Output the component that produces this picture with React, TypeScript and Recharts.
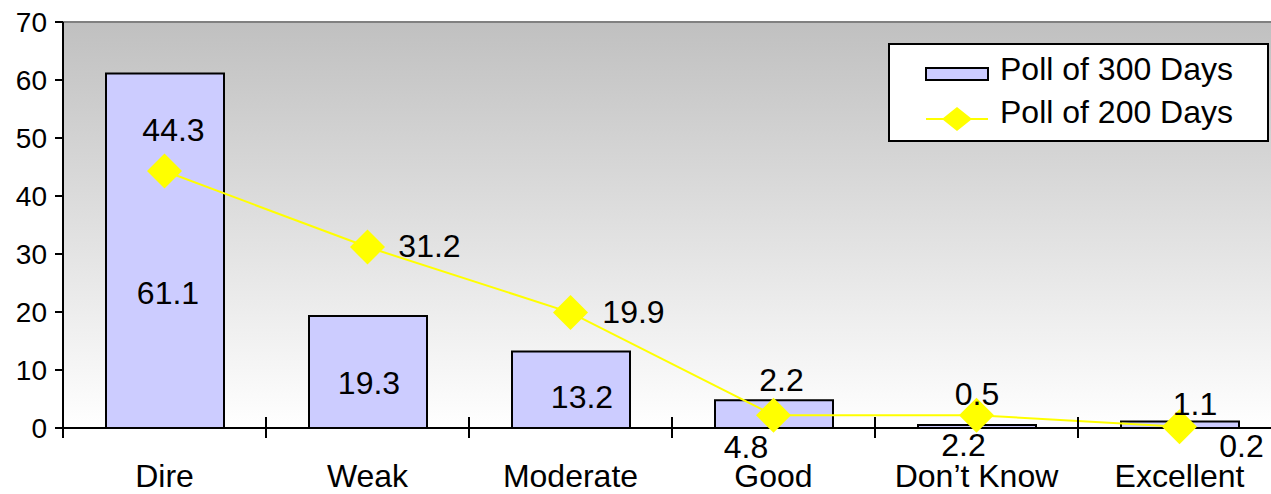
import {
  ComposedChart,
  Bar,
  Line,
  XAxis,
  YAxis,
  CartesianGrid,
  Legend,
  LabelList,
  ReferenceLine,
} from 'recharts';

const CATEGORIES = ['Dire', 'Weak', 'Moderate', 'Good', 'Don’t Know', 'Excellent'];
const POLL_300_DAYS = [61.1, 19.3, 13.2, 4.8, 0.5, 1.1];
const POLL_200_DAYS = [44.3, 31.2, 19.9, 2.2, 2.2, 0.2];
const Y_TICKS = [0, 10, 20, 30, 40, 50, 60, 70];

// where each data label sits, relative to the bar top / line point (text centre)
const BAR_LABEL_OFFSET = [[3, 219], [1, 67], [11, 46], [-28, 47], [0, -31], [15, -18]];
const LINE_LABEL_OFFSET = [[9, -41], [62, -1], [63, -1], [8, -35], [-13, 30], [62, 19]];

const FONT = '"Liberation Sans", Arial, sans-serif';
const CHART_W = 1290;
const CHART_H = 494;
const MARGIN = { top: 22, right: 9, bottom: 6, left: 0 };
const Y_AXIS_W = 63;
const BAND = (CHART_W - MARGIN.left - MARGIN.right - Y_AXIS_W) / CATEGORIES.length;

const data = CATEGORIES.map((name, i) => ({
  name,
  poll300: POLL_300_DAYS[i],
  poll200: POLL_200_DAYS[i],
}));

const Diamond = ({ cx, cy, hw = 17.5, hh = 17.5 }: any) => {
  if (cx == null || cy == null) return null;
  return (
    <polygon
      points={`${cx},${cy - hh} ${cx + hw},${cy} ${cx},${cy + hh} ${cx - hw},${cy}`}
      fill="#ffff00"
      stroke="none"
    />
  );
};

const CategoryTick = (props: any) => {
  const { x, y, payload, index } = props;
  const last = index === CATEGORIES.length - 1;
  return (
    <g>
      <line x1={x - BAND / 2} x2={x - BAND / 2} y1={y - 11} y2={y + 10} stroke="#000" strokeWidth={2} />
      {last && (
        <line x1={x + BAND / 2} x2={x + BAND / 2} y1={y - 11} y2={y + 10} stroke="#000" strokeWidth={2} />
      )}
      <text x={x} y={y + 59} textAnchor="middle" fontSize={32} fontFamily={FONT} fill="#000">
        {payload.value}
      </text>
    </g>
  );
};

const barLabel = (props: any) => {
  const { x, y, width, value, index } = props;
  const [dx, dy] = BAR_LABEL_OFFSET[index] ?? [0, 0];
  return (
    <text
      x={x + width / 2 + dx}
      y={y + dy + 11}
      textAnchor="middle"
      fontSize={32}
      fontFamily={FONT}
      fill="#000"
    >
      {value}
    </text>
  );
};

const lineLabel = (props: any) => {
  const { x, y, value, index } = props;
  const [dx, dy] = LINE_LABEL_OFFSET[index] ?? [0, 0];
  return (
    <text x={x + dx} y={y + dy + 11} textAnchor="middle" fontSize={32} fontFamily={FONT} fill="#000">
      {value}
    </text>
  );
};

const renderLegend = () => (
  <svg width={381} height={99} style={{ display: 'block' }}>
    <rect x={1} y={1} width={379} height={97} fill="#fff" stroke="#000" strokeWidth={2} />
    <rect x={38} y={25} width={62} height={12} fill="#ccccff" stroke="#000" strokeWidth={2} />
    <text x={112} y={37} fontSize={32} fontFamily={FONT} fill="#000">
      Poll of 300 Days
    </text>
    <line x1={38} x2={100} y1={76} y2={76} stroke="#ffff00" strokeWidth={2} />
    <Diamond cx={69} cy={76} hw={15} hh={12} />
    <text x={112} y={80} fontSize={32} fontFamily={FONT} fill="#000">
      Poll of 200 Days
    </text>
  </svg>
);

export default function App() {
  return (
    <div
      style={{
        position: 'absolute',
        left: 0,
        top: 0,
        width: 1271,
        height: 494,
        overflow: 'hidden',
        background: '#fff',
      }}
    >
      <ComposedChart width={CHART_W} height={CHART_H} data={data} margin={MARGIN}>
        <defs>
          <linearGradient id="plotBg" x1="0" y1="0" x2="0" y2="1">
            <stop offset="0%" stopColor="#c0c0c0" />
            <stop offset="100%" stopColor="#ffffff" />
          </linearGradient>
        </defs>
        <CartesianGrid fill="url(#plotBg)" horizontal={false} vertical={false} />
        <ReferenceLine y={70} stroke="#808080" strokeWidth={2} />
        <XAxis
          dataKey="name"
          height={60}
          tickLine={false}
          tickSize={0}
          tickMargin={0}
          axisLine={{ stroke: '#000', strokeWidth: 2 }}
          tick={<CategoryTick />}
          interval={0}
        />
        <YAxis
          width={Y_AXIS_W}
          domain={[0, 70]}
          ticks={Y_TICKS}
          interval={0}
          tickSize={8}
          tickMargin={8}
          axisLine={{ stroke: '#000', strokeWidth: 2 }}
          tickLine={{ stroke: '#000', strokeWidth: 2 }}
          tick={{ fill: '#000', fontSize: 28, fontFamily: FONT }}
        />
        <Legend
          layout="vertical"
          align="center"
          verticalAlign="middle"
          content={renderLegend}
          wrapperStyle={{ left: 888, top: 43, width: 381, height: 99 }}
        />
        <Bar
          dataKey="poll300"
          name="Poll of 300 Days"
          fill="#ccccff"
          stroke="#000"
          strokeWidth={2}
          barSize={118}
          isAnimationActive={false}
        >
          <LabelList dataKey="poll300" content={barLabel} />
        </Bar>
        <Line
          dataKey="poll200"
          name="Poll of 200 Days"
          stroke="#ffff00"
          strokeWidth={2}
          dot={<Diamond />}
          activeDot={false}
          isAnimationActive={false}
        >
          <LabelList dataKey="poll200" content={lineLabel} />
        </Line>
      </ComposedChart>
    </div>
  );
}
